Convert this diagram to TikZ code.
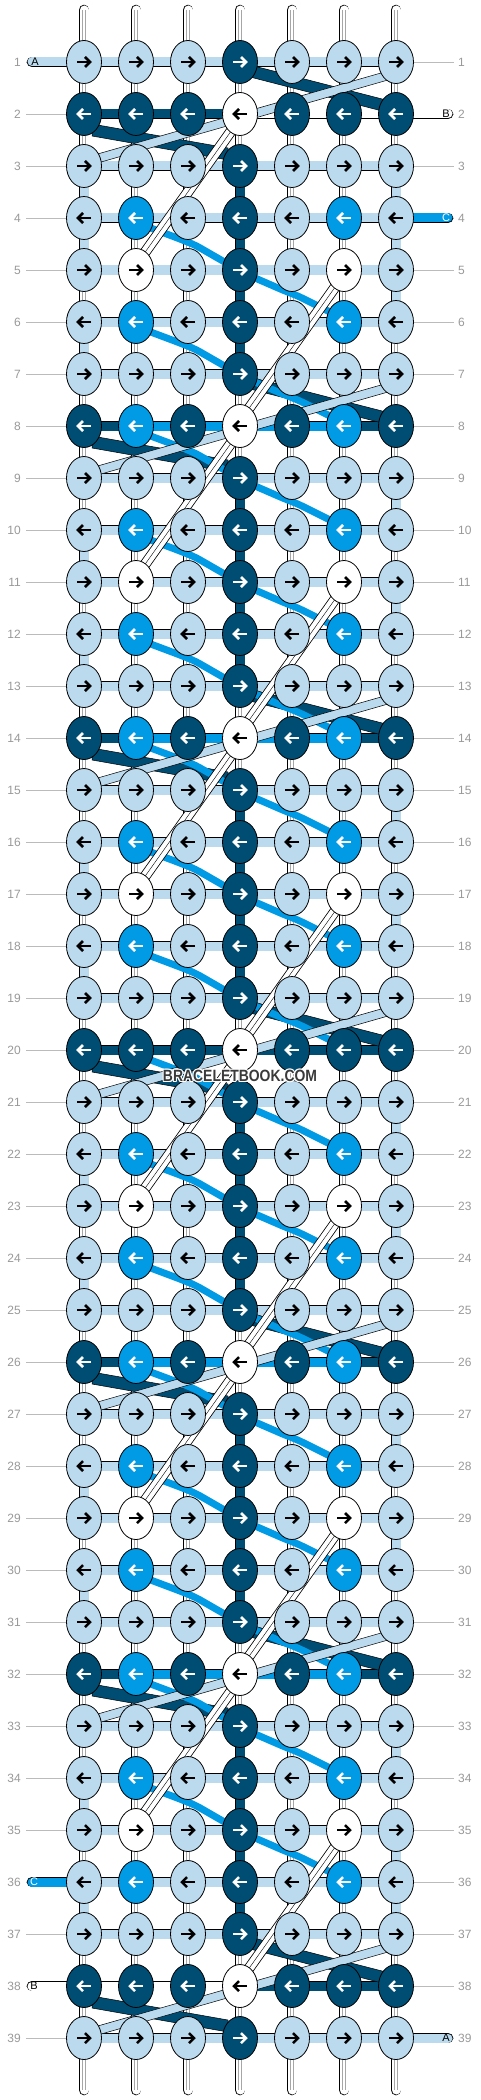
\documentclass[tikz,border=0pt]{standalone}
\usepackage{fontspec}
\setmainfont{Liberation Sans}
\usetikzlibrary{shapes.geometric}
\definecolor{fL}{HTML}{BBDAEE}
\definecolor{fD}{HTML}{004D73}
\definecolor{fC}{HTML}{009AE5}
\definecolor{fW}{HTML}{FFFFFF}
\colorlet{aL}{black}\colorlet{aD}{white}\colorlet{aC}{white}\colorlet{aW}{black}
\definecolor{labgray}{HTML}{999999}
\definecolor{linegray}{HTML}{BBBBBB}
\definecolor{wmark}{HTML}{3A3A3A}
\tikzset{
 tube/.style={draw=black, line width=0.8pt, double=#1, double distance=9pt},
 band/.style={fill=#1, draw=black, line width=0.5pt},
 knot/.style={ellipse, draw=black, line width=0.8pt, minimum width=35pt, minimum height=43pt, inner sep=0pt},
 arr/.style={line width=2.5pt},
 rowlab/.style={text=labgray, font=\fontsize{12}{12}\selectfont, inner sep=0pt},
 stublab/.style={font=\fontsize{11}{11}\selectfont, inner sep=0pt},
 guide/.style={draw=linegray, line width=0.8pt},
 innerln/.style={draw=black!35, line width=0.4pt},
 wm/.style={font=\bfseries\fontsize{16.3}{16.3}\selectfont, xscale=0.855, inner sep=0pt},
}
\begin{document}
\begin{tikzpicture}[x=1pt,y=-1pt]
\useasboundingbox (0,0) rectangle (480,2100);
\fill[white] (0,0) rectangle (480,2100);

% coordinates
\foreach \r in {1,...,39}{
  \foreach \cc in {1,...,7}{
    \coordinate (p-\r-\cc) at ({32+52*\cc},{10+52*\r});
  }
  \coordinate (L-\r) at (26,{10+52*\r});
  \coordinate (R-\r) at (454,{10+52*\r});
  \coordinate (LS-\r) at (32,{10+52*\r});
  \coordinate (RS-\r) at (448,{10+52*\r});
}
\foreach \cc in {1,...,7}{
  \coordinate (T-\cc) at ({32+52*\cc},10);
  \coordinate (B-\cc) at ({32+52*\cc},2090);
}

% row labels and guides
\foreach \r in {1,...,39}{
  \node[rowlab, anchor=east] (ll-\r) at (21,{10+52*\r}) {\r};
  \node[rowlab, anchor=west] (rl-\r) at (458,{10+52*\r}) {\r};
  \draw[guide] (L-\r) -- (p-\r-1);
  \draw[guide] (p-\r-7) -- (R-\r);
}

% top and bottom string ends
\foreach \cc in {1,...,7}{
  \draw[tube=white, line cap=round] (T-\cc) -- (p-1-\cc);
  \draw[innerln] ([xshift=-1.5pt]T-\cc) -- ([xshift=-1.5pt]p-1-\cc);
  \draw[innerln] ([xshift=1.5pt]T-\cc) -- ([xshift=1.5pt]p-1-\cc);
  \draw[tube=white, line cap=round] (p-39-\cc) -- (B-\cc);
  \draw[innerln] ([xshift=-1.5pt]p-39-\cc) -- ([xshift=-1.5pt]B-\cc);
  \draw[innerln] ([xshift=1.5pt]p-39-\cc) -- ([xshift=1.5pt]B-\cc);
}

% vertical connectors (white pairs)
\foreach \k in {1,...,38}{
  \pgfmathtruncatemacro\kn{\k+1}
  \foreach \cc in {1,...,7}{
    \draw[tube=white] (p-\k-\cc) -- (p-\kn-\cc);
    \draw[innerln] ([xshift=-1.5pt]p-\k-\cc) -- ([xshift=-1.5pt]p-\kn-\cc);
    \draw[innerln] ([xshift=1.5pt]p-\k-\cc) -- ([xshift=1.5pt]p-\kn-\cc);
  }
}
% coloured vertical connectors
\foreach \k in {3,...,36}{
  \pgfmathtruncatemacro\kn{\k+1}
  \pgfmathtruncatemacro\m{mod(\k,6)}
  \ifnum\m=1 \else\ifnum\m=2 \else \draw[tube=fD] (p-\k-4) -- (p-\kn-4); \fi\fi
  \ifnum\m=3 \draw[tube=fL] (p-\k-7) -- (p-\kn-7); \fi
  \ifnum\m=5 \draw[tube=fL] (p-\k-7) -- (p-\kn-7); \fi
  \ifnum\m=4 \draw[tube=fL] (p-\k-1) -- (p-\kn-1); \fi
  \ifnum\m=0 \draw[tube=fL] (p-\k-1) -- (p-\kn-1); \fi
}
\draw[tube=fL] (p-3-1) -- (p-4-1);
\draw[tube=fL] (p-4-7) -- (p-5-7);
\draw[tube=fL] (p-36-7) -- (p-37-7);

% horizontal connectors
\foreach \r in {1,...,39}{
  \foreach \cc in {1,...,6}{
    \pgfmathtruncatemacro\cn{\cc+1}
    \draw[tube=fL] (p-\r-\cc) -- (p-\r-\cn);
  }
}
\foreach \r/\ha/\hb/\hc/\hd/\he/\hf in {2/fD/fD/fD/fW/fW/fW, 8/fD/fC/fC/fC/fC/fD, 14/fD/fC/fC/fC/fC/fD, 20/fD/fD/fD/fD/fD/fD, 26/fD/fC/fC/fC/fC/fD, 32/fD/fC/fC/fC/fC/fD, 38/fW/fW/fW/fD/fD/fD}{
  \foreach \cc/\hh in {1/\ha,2/\hb,3/\hc,4/\hd,5/\he,6/\hf}{
    \pgfmathtruncatemacro\cn{\cc+1}
    \edef\hcol{\hh}
    \draw[tube=\hcol] (p-\r-\cc) -- (p-\r-\cn);
  }
}

% working strings entering / leaving
\draw[tube=fL, line cap=round] (LS-1) -- (p-1-1);
\node[stublab] (sA1) at (35,62) {A};
\draw[tube=fW, line cap=round] (p-2-7) -- (RS-2);
\node[stublab] (sB1) at (446,114) {B};
\draw[tube=fC, line cap=round] (p-4-7) -- (RS-4);
\node[stublab, text=white] (sC1) at (446,218) {C};
\draw[tube=fC, line cap=round] (LS-36) -- (p-36-1);
\node[stublab, text=white] (sC2) at (34,1882) {C};
\draw[tube=fW, line cap=round] (LS-38) -- (p-38-1);
\node[stublab] (sB2) at (34,1986) {B};
\draw[tube=fL, line cap=round] (p-39-7) -- (RS-39);
\node[stublab] (sA2) at (446,2038) {A};

% dark bands
\foreach \R in {2,8,14,20,26,32,38}{
  \pgfmathsetmacro\ya{10+52*(\R-1)}
  \pgfmathsetmacro\yb{10+52*\R}
  \pgfmathsetmacro\yc{10+52*(\R+1)}
  \filldraw[band=fD] (250,{\ya+3}) -- (386,{\yb-14}) -- (386,{\yb-2}) -- (250,{\ya+15}) -- cycle;
  \filldraw[band=fD] (92,{\yb+10}) -- (228,{\yc-18}) -- (228,{\yc-6}) -- (92,{\yb+22}) -- cycle;
}
% bright blue bands
\foreach \r in {4,6,...,34}{
  \pgfmathsetmacro\ya{10+52*\r}
  \pgfmathsetmacro\yb{10+52*(\r+1)}
  \draw[fC, line width=7pt, rounded corners=6pt] (148,{\ya+9}) -- (180,{\ya+21}) -- (195,{\ya+27}) -- (228,{\ya+46});
  \draw[fC, line width=7pt, rounded corners=6pt] (255,{\yb+8}) -- (285,{\yb+21}) -- (298,{\yb+26}) -- (332,{\yb+43});
}
% light blue bands
\foreach \R in {2,8,14,20,26,32,38}{
  \pgfmathsetmacro\ya{10+52*(\R-1)}
  \pgfmathsetmacro\yc{10+52*(\R+1)}
  \filldraw[band=fL] (396,{\ya+6.7}) -- (84,{\yc-8.1}) -- (84,{\yc+0.9}) -- (396,{\ya+15.7}) -- cycle;
}
% white pairs crossing
\foreach \R in {2,8,14,20,26,32}{
  \pgfmathsetmacro\ya{10+52*\R}
  \pgfmathsetmacro\yd{10+52*(\R+3)}
  \draw[tube=white] (234,{\ya+13}) -- (141,{\yd-12});
  \draw[black, line width=0.4pt] (234,{\ya+13}) -- (141,{\yd-12});
}
\foreach \R in {5,11,17,23,29,35}{
  \pgfmathsetmacro\ya{10+52*\R}
  \pgfmathsetmacro\yd{10+52*(\R+3)}
  \draw[tube=white] (338,{\ya+13}) -- (245,{\yd-12});
  \draw[black, line width=0.4pt] (338,{\ya+13}) -- (245,{\yd-12});
}

% knots
\foreach \r/\ka/\kb/\kc/\kd/\ke/\kf/\kg in {
1/L/L/L/D/L/L/L, 2/D/D/D/W/D/D/D, 3/L/L/L/D/L/L/L, 4/L/C/L/D/L/C/L, 5/L/W/L/D/L/W/L, 6/L/C/L/D/L/C/L,
7/L/L/L/D/L/L/L, 8/D/C/D/W/D/C/D, 9/L/L/L/D/L/L/L, 10/L/C/L/D/L/C/L, 11/L/W/L/D/L/W/L, 12/L/C/L/D/L/C/L,
13/L/L/L/D/L/L/L, 14/D/C/D/W/D/C/D, 15/L/L/L/D/L/L/L, 16/L/C/L/D/L/C/L, 17/L/W/L/D/L/W/L, 18/L/C/L/D/L/C/L,
19/L/L/L/D/L/L/L, 20/D/D/D/W/D/D/D, 21/L/L/L/D/L/L/L, 22/L/C/L/D/L/C/L, 23/L/W/L/D/L/W/L, 24/L/C/L/D/L/C/L,
25/L/L/L/D/L/L/L, 26/D/C/D/W/D/C/D, 27/L/L/L/D/L/L/L, 28/L/C/L/D/L/C/L, 29/L/W/L/D/L/W/L, 30/L/C/L/D/L/C/L,
31/L/L/L/D/L/L/L, 32/D/C/D/W/D/C/D, 33/L/L/L/D/L/L/L, 34/L/C/L/D/L/C/L, 35/L/W/L/D/L/W/L, 36/L/C/L/D/L/C/L,
37/L/L/L/D/L/L/L, 38/D/D/D/W/D/D/D, 39/L/L/L/D/L/L/L}{
  \ifodd\r\relax\def\dir{1}\else\def\dir{-1}\fi
  \foreach \cc/\kk in {1/\ka,2/\kb,3/\kc,4/\kd,5/\ke,6/\kf,7/\kg}{
    \edef\fc{f\kk}\edef\ac{a\kk}
    \node[knot, fill=\fc] (n-\r-\cc) at (p-\r-\cc) {};
    \begin{scope}[shift={(p-\r-\cc)}, xscale=\dir]
      \draw[arr, draw=\ac] (-7,0) -- (5,0);
      \draw[arr, draw=\ac, line join=miter] (1,-5) -- (6,0) -- (1,5);
    \end{scope}
  }
}

% watermark
\foreach \dx/\dy [count=\i] in {1.2/0,-1.2/0,0/1.2,0/-1.2,0.9/0.9,-0.9/0.9,0.9/-0.9,-0.9/-0.9}{
  \node[wm, text=white] (wmh-\i) at ({240+\dx},{1076+\dy}) {BRACELETBOOK.COM};
}
\node[wm, text=wmark] (wm) at (240,1076) {BRACELETBOOK.COM};
\end{tikzpicture}
\end{document}
